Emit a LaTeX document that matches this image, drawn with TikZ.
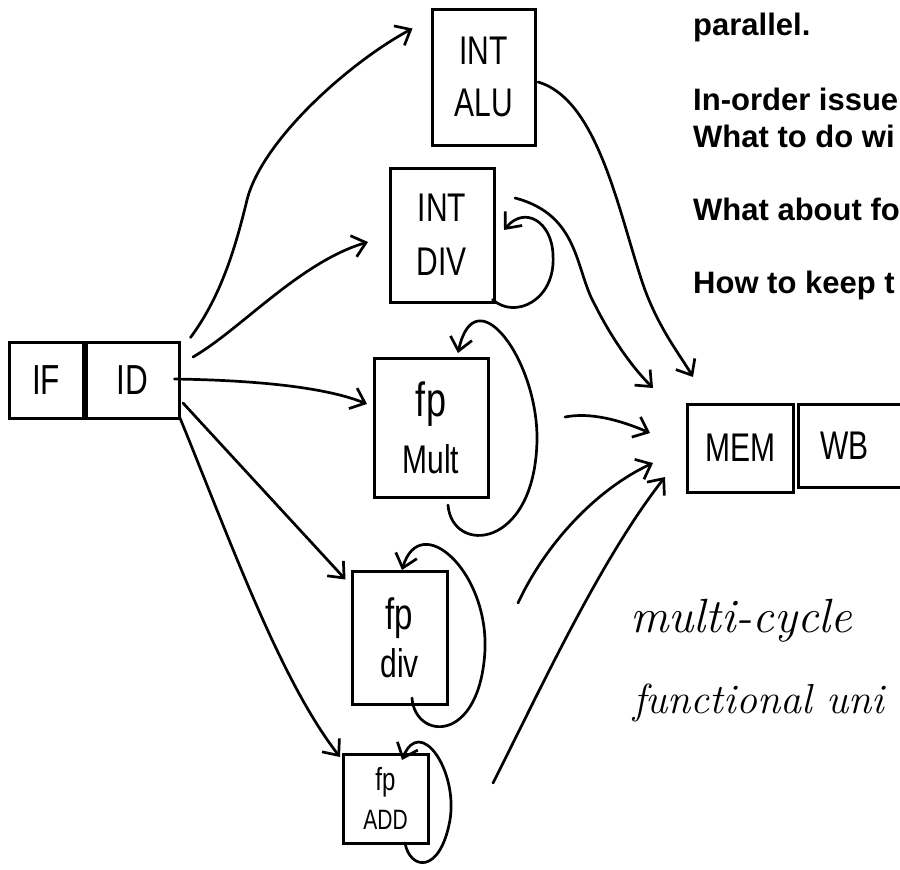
\documentclass[tikz,border=0pt]{standalone}
\usepackage{fontspec}
\newfontfamily\notefont{Liberation Sans}
\newfontfamily\handfont{Liberation Sans}[FakeStretch=0.75]
\usetikzlibrary{arrows.meta}

\tikzset{
  unit/.style={draw, line width=3pt, inner sep=0pt, align=center,
    font=\handfont\fontsize{40}{52}\selectfont},
  link/.style={line width=2.7pt, line cap=round, line join=round,
    -{Straight Barb[length=13pt,width=22pt]}},
  loopback/.style={link},
  note/.style={anchor=base west, inner sep=0pt,
    font=\notefont\bfseries\fontsize{31}{37}\selectfont},
  scrawl/.style={anchor=base west, inner sep=0pt,
    font=\itshape\fontsize{48}{56}\selectfont},
}

\begin{document}
\begin{tikzpicture}[x=1pt, y=-1pt]
\useasboundingbox (0,0) rectangle (900,870);
\clip (0,0) rectangle (900,870);

% pipeline front end
\node[unit, minimum width=74pt, minimum height=76pt, font=\handfont\fontsize{42}{50}\selectfont] (if) at (46,380) {IF};
\node[unit, minimum width=93pt, minimum height=76pt, font=\handfont\fontsize{42}{50}\selectfont] (id) at (132.5,380) {ID};

% functional units
\node[unit, minimum width=103pt, minimum height=136pt] (alu) at (483.5,77) {INT\\ALU};
\node[unit, minimum width=104pt, minimum height=134pt, font=\handfont\fontsize{40}{54}\selectfont] (idiv) at (442,235) {INT\\DIV};
\node[unit, minimum width=114pt, minimum height=139pt, font=\handfont\fontsize{40}{57}\selectfont] (fmul) at (431,427.5) {{\fontsize{48}{57}\selectfont fp}\\Mult};
\node[unit, minimum width=95pt, minimum height=133pt, font=\handfont\fontsize{40}{48}\selectfont] (fdiv) at (399.5,637.5) {{\fontsize{44}{48}\selectfont fp}\\div};
\node[unit, minimum width=85pt, minimum height=89pt, font=\handfont\fontsize{28}{39}\selectfont] (fadd) at (385.5,798.5) {{\fontsize{32}{39}\selectfont fp}\\ADD};

% back end
\node[unit, minimum width=106pt, minimum height=88pt] (mem) at (740,448) {MEM};
\node[unit, minimum width=122pt, minimum height=83pt, text width=110pt, align=left] (wb) at (859,445.5) {\hspace{16pt}WB};

% issue paths from ID
\draw[link] ([shift={(10,-3)}]id.north east)
  .. controls (222,295) and (236,245) .. (247,200)
  .. controls (262,140) and (350,62) .. ([shift={(-18,21)}]alu.north west);
\draw[link] ([shift={(12.5,16.5)}]id.north east)
  .. controls (240,330) and (300,262) .. ([shift={(-20.5,7)}]idiv.west);
\draw[link] ([shift={(-6,-1)}]id.east)
  .. controls (240,380) and (320,385) .. ([shift={(-5.5,-23.5)}]fmul.west);
\draw[link] ([shift={(2.5,-16.5)}]id.south east)
  .. controls (240,465) and (300,530) .. ([shift={(-5,10)}]fdiv.north west);
\draw[link] ([shift={(-0.5,-1.5)}]id.south east)
  .. controls (230,540) and (280,680) .. ([shift={(-1.5,4.5)}]fadd.north west);

% recirculation through the multi-cycle units
\draw[loopback] ([shift={(-3,-4)}]idiv.south east)
  .. controls (515,320) and (556,300) .. (553,255)
  .. controls (552,222) and (525,205) .. ([shift={(8.5,-5)}]idiv.east);
\draw[loopback] ([shift={(-41.5,6.5)}]fmul.south east)
  .. controls (452,555) and (535,550) .. (537,440)
  .. controls (538,360) and (475,275) .. ([shift={(27,-3.5)}]fmul.north);
\draw[loopback] ([shift={(12.5,-7.5)}]fdiv.south)
  .. controls (415,740) and (480,745) .. (485,650)
  .. controls (488,570) and (420,510) .. ([shift={(2.5,0.5)}]fdiv.north);
\draw[loopback] ([shift={(19.5,-1.5)}]fadd.south)
  .. controls (410,870) and (440,875) .. (450,820)
  .. controls (458,770) and (420,715) .. ([shift={(16.5,7.5)}]fadd.north);

% results into MEM
\draw[link] ([shift={(1.5,5)}]alu.east)
  .. controls (600,100) and (620,220) .. (645,290)
  .. controls (660,330) and (680,355) .. ([shift={(7.5,-25.5)}]mem.north west);
\draw[link] ([shift={(19.5,-37)}]idiv.east)
  .. controls (580,215) and (575,270) .. (595,305)
  .. controls (610,335) and (630,365) .. ([shift={(-32.5,-14.5)}]mem.north west);
\draw[link] ([shift={(75.5,-10.5)}]fmul.east)
  .. controls (590,412) and (620,420) .. ([shift={(-35.5,-15)}]mem.west);
\draw[link] ([shift={(69.5,-34.5)}]fdiv.east)
  .. controls (545,545) and (595,490) .. ([shift={(-32.5,15)}]mem.west);
\draw[link] ([shift={(63.5,-15.5)}]fadd.east)
  .. controls (540,690) and (600,560) .. ([shift={(-20.5,29)}]mem.west);

% notes
\node[note] (n0) at (693,35) {parallel.};
\node[note] (n1) at (693,110) {In-order issue};
\node[note] (n2) at (693,147) {What to do wi};
\node[note] (n3) at (693,220) {What about fo};
\node[note] (n4) at (693,293) {How to keep t};

\node[scrawl] (h1) at (630,632) {multi-cycle};
\node[scrawl, font=\itshape\fontsize{42}{50}\selectfont] (h2) at (633,713) {functional uni};
\end{tikzpicture}
\end{document}
